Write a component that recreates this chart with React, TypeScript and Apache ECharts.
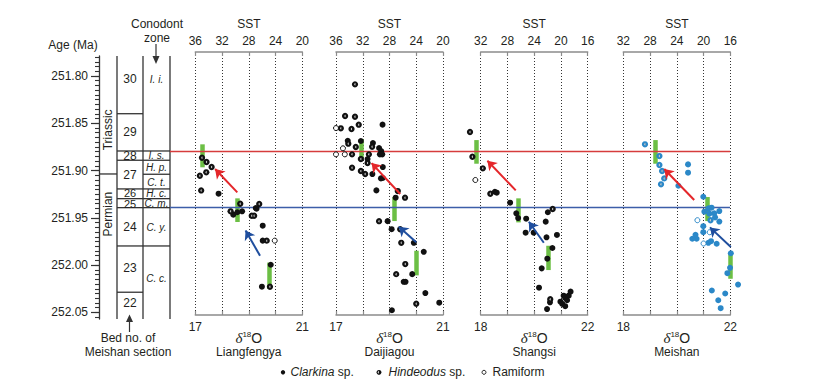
import React, { useEffect, useRef } from 'react';
import * as echarts from 'echarts';

const FONT = '"Liberation Sans", Arial, Helvetica, sans-serif';
const SERIF = '"Liberation Serif", "Times New Roman", serif';
const TEXT = '#231f20';
const LINE = '#333333';
const AXIS_GREY = '#8c8c8c';

// ---------- age axis ----------
const ageTickLabels = [251.8, 251.85, 251.9, 251.95, 252.0, 252.05];
const columnAgeMin = 251.7789;
const columnAgeMax = 252.0569;
const panelAgeMin = 251.7746;
const panelAgeMax = 252.0526;

// ---------- stratigraphic column ----------
const systemNames = ['Triassic', 'Permian'];
const systemBounds = [251.7789, 251.9036, 252.0569];
const systemLabelAges = [251.857, 251.946];

const bedNames = ['30', '29', '28', '27', '26', '25', '24', '23', '22'];
const bedBounds = [251.7789, 251.8399, 251.8793, 251.8891, 251.9194, 251.9297, 251.9392, 251.9797, 252.0286, 252.0569];
const bedLabelAges = [251.8032, 251.8592, 251.8843, 251.9047, 251.9232, 251.9357, 251.9596, 252.003, 252.04];
const bedFontSizes = [12, 12, 12, 12, 11, 11, 12, 12, 12];

const zoneNames = ['I. i.', 'I. s.', 'H. p.', 'C. t.', 'H. c.', 'C. m.', 'C. y.', 'C. c.'];
const zoneBounds = [251.7789, 251.8793, 251.8891, 251.9039, 251.9194, 251.9297, 251.9392, 251.9797, 252.0569];
const zoneLabelAges = [251.8042, 251.8843, 251.8969, 251.9121, 251.9247, 251.935, 251.9607, 252.0143];

// ---------- episodes ----------
const episodeNames = ['2nd episode', '1st episode'];
const episodeAges = [251.8797, 251.9392];
const episodeColors = ['#d63c3c', '#3c5ea9'];

// ---------- panels ----------
const panelNames = ['Liangfengya', 'Daijiagou', 'Shangsi', 'Meishan'];
const d18oRanges = [[17, 21], [17, 21], [18, 22], [18, 22]];
const sstRanges = [[20, 36], [20, 36], [16, 32], [16, 32]];
const pointColors = ['#111111', '#111111', '#111111', '#2b88c8'];

// Liangfengya  [δ18O, age]
const liangfengyaClarkina = [[17.87, 251.9244], [18.42, 251.9466], [18.57, 251.944], [18.75, 251.943], [19.26, 251.9395], [19.29, 251.9402], [19.52, 251.9582], [19.52, 251.974], [19.82, 251.9995], [19.49, 252.0227]];
const liangfengyaHindeodus = [[17.25, 251.8864], [17.42, 251.8909], [17.61, 251.8962], [17.41, 251.9018], [17.17, 251.9054], [17.22, 251.9209], [18.68, 251.935], [18.32, 251.943], [19.11, 251.9477], [19.2, 251.9477], [19.39, 251.9353], [19.67, 251.974], [19.79, 252.0227]];
const liangfengyaRamiform = [[19.97, 251.974]];
const liangfengyaBars = [[17.25, 251.8722, 251.8965], [18.55, 251.9293, 251.9543], [19.77, 251.9972, 252.0251]];
const liangfengyaArrows = [[[18.57, 251.923], [17.74, 251.8983]], [[19.42, 251.99], [18.88, 251.9632]]];

// Daijiagou
const daijiagouClarkina = [[17.44, 251.8684], [17.93, 251.8687], [18.38, 251.8708], [18.74, 251.8514], [18.61, 251.8761], [18.69, 251.8793], [18.64, 251.8828], [18.73, 251.8828], [18.18, 251.8877], [18.75, 251.8962], [18.36, 251.9036], [18.68, 251.9082], [18.75, 251.9078], [18.51, 251.9209], [19.23, 251.9286], [18.93, 251.9534], [19.08, 251.9619], [19.91, 251.9763], [20.28, 251.9858], [19.85, 252.0094], [19.53, 252.0175], [19.6, 252.0175], [20.34, 252.0294], [20.86, 252.0396], [19.09, 252.0476]];
const daijiagouHindeodus = [[17.71, 251.8088], [17.34, 251.8423], [17.71, 251.843], [17.18, 251.8553], [17.58, 251.856], [17.85, 251.8514], [17.46, 251.8715], [17.74, 251.875], [18.35, 251.8747], [17.6, 251.8828], [18.23, 251.8828], [17.93, 251.8877], [18.18, 251.892], [17.6, 251.8969], [17.93, 251.9004], [18.09, 251.9036], [19.31, 251.9216], [19.58, 251.9286], [18.61, 251.9534], [19.4, 251.9619], [19.44, 251.9763], [19.59, 251.9988], [19.25, 252.0094], [20.0, 252.0407]];
const daijiagouRamiform = [[17.0, 251.855], [17.26, 251.8764], [17.0, 251.8828], [17.33, 251.8828]];
const daijiagouBars = [[17.93, 251.8666, 251.8863], [19.19, 251.9279, 251.9533], [20.0, 251.9847, 252.0107]];
const daijiagouArrows = [[[19.4, 251.9247], [18.33, 251.892]], [[20.0, 251.9758], [19.35, 251.9593]]];

// Shangsi
const shangsiClarkina = [[18.53, 251.9223], [18.6, 251.9233], [19.1, 251.9339], [19.33, 251.9451], [19.4, 251.9501], [19.7, 251.9508], [19.68, 251.9656], [19.98, 251.9656], [20.51, 251.944], [20.43, 251.9539], [20.46, 251.9705], [20.85, 251.968], [20.68, 251.9818], [20.49, 251.9931], [20.28, 252.0033], [20.18, 252.0237], [20.59, 252.0392], [20.48, 252.0463], [20.98, 252.0385], [21.1, 252.0322], [21.16, 252.0345], [21.29, 252.0322], [21.36, 252.0279], [21.05, 252.0409], [21.16, 252.0433], [21.23, 252.037]];
const shangsiHindeodus = [[17.6, 251.8592], [17.69, 251.8853], [18.08, 251.8976], [18.36, 251.9244], [20.69, 251.9405], [20.6, 252.036]];
const shangsiRamiform = [[17.8, 251.9099]];
const shangsiBars = [[17.83, 251.8677, 251.8927], [19.39, 251.9293, 251.9547], [20.53, 251.9794, 252.0051]];
const shangsiArrows = [[[19.31, 251.9209], [18.25, 251.8895]], [[20.36, 251.9762], [19.8, 251.954]]];

// Meishan
const meishanClarkina = [[20.42, 251.8934], [20.42, 251.9022], [20.06, 251.916], [20.99, 251.9276], [21.03, 251.9434], [21.3, 251.9392], [21.4, 251.9451], [21.43, 251.9494], [21.59, 251.9427], [21.19, 251.9399], [21.22, 251.9455], [21.59, 251.9538], [20.99, 251.9587], [20.99, 251.9651], [20.7, 251.9679], [20.74, 251.972], [20.58, 251.972], [21.18, 251.9763], [21.28, 251.9746], [21.49, 251.9773], [22.02, 251.9873], [21.99, 252.0027], [21.89, 252.0084], [22.29, 252.0204], [21.31, 252.0267], [21.81, 252.0299], [21.55, 252.037], [21.64, 252.0454]];
const meishanHindeodus = [[18.81, 251.8722], [19.35, 251.8846], [19.35, 251.8941], [19.45, 251.9004], [19.53, 251.9082], [19.41, 251.9145], [21.26, 251.9524]];
const meishanRamiform = [[20.77, 251.9524], [21.23, 251.9651], [21.0, 251.977]];
const meishanBars = [[19.2, 251.8677, 251.8927], [21.13, 251.9279, 251.9533], [21.99, 251.9874, 252.0143]];
const meishanArrows = [[[20.65, 251.9311], [19.53, 251.8983]], [[22.02, 251.9808], [21.24, 251.96]]];

const panelClarkina = [liangfengyaClarkina, daijiagouClarkina, shangsiClarkina, meishanClarkina];
const panelHindeodus = [liangfengyaHindeodus, daijiagouHindeodus, shangsiHindeodus, meishanHindeodus];
const panelRamiform = [liangfengyaRamiform, daijiagouRamiform, shangsiRamiform, meishanRamiform];
const panelBars = [liangfengyaBars, daijiagouBars, shangsiBars, meishanBars];
const panelArrows = [liangfengyaArrows, daijiagouArrows, shangsiArrows, meishanArrows];

const legendNames = ['Clarkina', 'Hindeodus', 'Ramiform'];

// ---------- layout ----------
const PANEL_LEFTS = [195.3, 336, 480.7, 623.3];
const PANEL_W = 107;
const PANEL_TOP = 52;
const PANEL_H = 263;
const COL_LEFT = 99;
const COL_TOP = 56;
const COL_H = 263;
const COL_X = [0, 18, 44, 71]; // system | bed | zone columns (px units inside column grid)
const ARROW_COLORS = ['#e4262a', '#1f4e9e'];
const BAR_GREEN = '#6cbf45';
const HALF_DISK = 'path://M10 0A10 10 0 0 0 10 20Z';

function buildOption() {
  const grid: any[] = [];
  const xAxis: any[] = [];
  const yAxis: any[] = [];
  const series: any[] = [];
  const graphic: any[] = [];

  // ----- column grid -----
  grid.push({ left: COL_LEFT, top: COL_TOP, width: COL_X[3], height: COL_H });
  xAxis.push({ gridIndex: 0, type: 'value', min: 0, max: COL_X[3], show: false });
  const minorAgeTicks: number[] = [];
  for (let k = 0; k <= 55; k++) minorAgeTicks.push(Math.round((251.78 + k * 0.005) * 1000) / 1000);
  yAxis.push({
    gridIndex: 0, type: 'value', min: columnAgeMin, max: columnAgeMax, inverse: true, position: 'left',
    axisLine: { show: true, lineStyle: { color: LINE, width: 1.3 } },
    axisTick: { show: true, inside: false, length: 8, customValues: ageTickLabels, lineStyle: { color: LINE, width: 1.2 } },
    axisLabel: { show: true, customValues: ageTickLabels, formatter: (v: number) => v.toFixed(2), margin: 11, fontSize: 12, color: TEXT, fontFamily: FONT },
    splitLine: { show: false },
  });
  yAxis.push({
    gridIndex: 0, type: 'value', min: columnAgeMin, max: columnAgeMax, inverse: true, position: 'left',
    axisLine: { show: false },
    axisTick: { show: true, inside: false, length: 4, customValues: minorAgeTicks, lineStyle: { color: LINE, width: 1.1 } },
    axisLabel: { show: false },
    splitLine: { show: false },
  });

  const lineStyle = { stroke: LINE, lineWidth: 1.3 };
  series.push({
    type: 'custom', name: 'columnLines', xAxisIndex: 0, yAxisIndex: 0, clip: false, silent: true,
    data: [[COL_X[1], columnAgeMin], [COL_X[2], columnAgeMin], [COL_X[3], columnAgeMin]],
    renderItem: (params: any, api: any) => {
      const x = api.value(0);
      const p1 = api.coord([x, columnAgeMin]);
      const p2 = api.coord([x, columnAgeMax]);
      return { type: 'line', shape: { x1: p1[0], y1: p1[1], x2: p2[0], y2: p2[1] }, style: lineStyle };
    },
  });
  const cellSeries = (name: string, names: string[], bounds: number[], labelAges: number[], x0: number, x1: number, text: any, rotate: boolean, sizes?: number[]) => ({
    type: 'custom', name, xAxisIndex: 0, yAxisIndex: 0, clip: false, silent: true,
    data: names.map((_n, i) => [i, labelAges[i]]),
    renderItem: (params: any, api: any) => {
      const i = params.dataIndex;
      const children: any[] = [];
      if (i < names.length - 1) {
        const a = api.coord([x0, bounds[i + 1]]);
        const b = api.coord([x1, bounds[i + 1]]);
        children.push({ type: 'line', shape: { x1: a[0], y1: a[1], x2: b[0], y2: b[1] }, style: lineStyle });
      }
      const c = api.coord([(x0 + x1) / 2, labelAges[i]]);
      const extra = sizes ? { fontSize: sizes[i] } : {};
      children.push({
        type: 'text', x: c[0], y: c[1], rotation: rotate ? Math.PI / 2 : 0,
        style: { text: names[i], align: 'center', verticalAlign: 'middle', fill: TEXT, ...text, ...extra },
      });
      return { type: 'group', children };
    },
  });
  series.push(cellSeries('systems', systemNames, systemBounds, systemLabelAges, COL_X[0], COL_X[1], { fontSize: 12, fontFamily: FONT }, true));
  series.push(cellSeries('beds', bedNames, bedBounds, bedLabelAges, COL_X[1], COL_X[2], { fontSize: 12, fontFamily: FONT }, false, bedFontSizes));
  series.push(cellSeries('zones', zoneNames, zoneBounds, zoneLabelAges, COL_X[2], COL_X[3], { fontSize: 10, fontFamily: FONT, fontStyle: 'italic' }, false));

  // ----- panels -----
  for (let p = 0; p < 4; p++) {
    const gi = p + 1;
    grid.push({ left: PANEL_LEFTS[p], top: PANEL_TOP, width: PANEL_W, height: PANEL_H });
    const [dMin, dMax] = d18oRanges[p];
    const [sMin, sMax] = sstRanges[p];
    const bottomIdx = xAxis.length;
    xAxis.push({
      gridIndex: gi, type: 'value', position: 'bottom', min: dMin, max: dMax, interval: 1,
      axisLine: { show: true, onZero: false, lineStyle: { color: AXIS_GREY, width: 1.5 } },
      axisTick: { show: true, inside: true, length: 4, lineStyle: { color: AXIS_GREY, width: 1.2 } },
      axisLabel: { formatter: (v: number) => (v === dMin || v === dMax ? String(v) : ''), margin: 6, fontSize: 12, color: TEXT, fontFamily: FONT },
      splitLine: { show: true, lineStyle: { type: [1, 2], color: '#333', width: 1 } },
    });
    xAxis.push({
      gridIndex: gi, type: 'value', position: 'top', min: sMin, max: sMax, interval: 4, inverse: true,
      axisLine: { show: true, onZero: false, lineStyle: { color: AXIS_GREY, width: 1.5 } },
      axisTick: { show: true, inside: true, length: 4, lineStyle: { color: AXIS_GREY, width: 1.2 } },
      axisLabel: { margin: 5, fontSize: 12, color: TEXT, fontFamily: FONT },
      splitLine: { show: false },
      name: 'SST', nameLocation: 'middle', nameGap: 21,
      nameTextStyle: { fontSize: 12, color: TEXT, fontFamily: FONT },
    });
    const yIdx = yAxis.length;
    yAxis.push({ gridIndex: gi, type: 'value', min: panelAgeMin, max: panelAgeMax, inverse: true, show: false });

    const color = pointColors[p];
    series.push({
      type: 'lines', coordinateSystem: 'cartesian2d', xAxisIndex: bottomIdx, yAxisIndex: yIdx, z: 1, silent: true, clip: false,
      data: panelBars[p].map((b) => ({ coords: [[b[0], b[1]], [b[0], b[2]]] })),
      lineStyle: { color: BAR_GREEN, width: 4.5, opacity: 1 },
    });
    series.push({
      type: 'scatter', name: 'Clarkina sp.', xAxisIndex: bottomIdx, yAxisIndex: yIdx, z: 3, clip: false,
      symbol: 'circle', symbolSize: 6, itemStyle: { color, opacity: 1 },
      data: panelClarkina[p],
    });
    series.push({
      type: 'scatter', name: 'Hindeodus sp.', xAxisIndex: bottomIdx, yAxisIndex: yIdx, z: 3, clip: false,
      symbol: 'circle', symbolSize: 6.3, itemStyle: { color, opacity: 1 },
      data: panelHindeodus[p],
    });
    series.push({
      type: 'scatter', name: 'Hindeodus overlay', xAxisIndex: bottomIdx, yAxisIndex: yIdx, z: 4, clip: false, silent: true,
      symbol: HALF_DISK, symbolSize: [1.2, 2.5], symbolOffset: [-0.1, 0], itemStyle: { color: '#c4c4c4', opacity: 1 },
      data: panelHindeodus[p],
    });
    series.push({
      type: 'scatter', name: 'Ramiform', xAxisIndex: bottomIdx, yAxisIndex: yIdx, z: 3, clip: false,
      symbol: 'circle', symbolSize: 5, itemStyle: { color: '#fff', borderColor: color, borderWidth: 1, opacity: 1 },
      data: panelRamiform[p],
    });
    series.push({
      type: 'lines', coordinateSystem: 'cartesian2d', xAxisIndex: bottomIdx, yAxisIndex: yIdx, z: 5, silent: true, clip: false,
      symbol: ['none', 'arrow'], symbolSize: 9,
      data: panelArrows[p].map((a, i) => ({ coords: a, lineStyle: { color: ARROW_COLORS[i] } })),
      lineStyle: { width: 2, opacity: 1 },
    });

    const cx = PANEL_LEFTS[p] + PANEL_W / 2;
    graphic.push({
      type: 'text', x: cx, y: 338,
      style: {
        text: '{d|δ}{s|18}{o|O}', align: 'center', verticalAlign: 'middle', fill: TEXT, fontSize: 14, fontFamily: FONT,
        rich: {
          d: { fontFamily: SERIF, fontStyle: 'italic', fontSize: 15, fill: TEXT },
          s: { fontFamily: FONT, fontSize: 8, fill: TEXT, padding: [0, 0, 8, 0] },
          o: { fontFamily: FONT, fontSize: 14, fill: TEXT },
        },
      },
    });
    graphic.push({
      type: 'text', x: cx, y: 352,
      style: { text: panelNames[p], align: 'center', verticalAlign: 'middle', fontSize: 12, fontFamily: FONT, fill: TEXT },
    });
  }

  // ----- episode lines -----
  grid.push({ left: 170, top: PANEL_TOP, width: 560, height: PANEL_H });
  const exIdx = xAxis.length;
  xAxis.push({ gridIndex: 5, type: 'value', min: 0, max: 1, show: false });
  const eyIdx = yAxis.length;
  yAxis.push({ gridIndex: 5, type: 'value', min: panelAgeMin, max: panelAgeMax, inverse: true, show: false });
  series.push({
    type: 'lines', coordinateSystem: 'cartesian2d', xAxisIndex: exIdx, yAxisIndex: eyIdx, z: 2, silent: true,
    data: episodeNames.map((n, i) => ({ name: n, coords: [[0, episodeAges[i]], [1, episodeAges[i]]], lineStyle: { color: episodeColors[i] } })),
    lineStyle: { width: 1.3, opacity: 1 },
    label: { show: true, position: 'end', formatter: '{b}', fontSize: 12, fontFamily: FONT, color: TEXT, distance: 3 },
  });

  // ----- header / footer texts -----
  const txt = (text: string, x: number, y: number, extra: any = {}) => ({
    type: 'text', x, y, style: { text, align: 'center', verticalAlign: 'middle', fontSize: 12, fontFamily: FONT, fill: TEXT, ...extra },
  });
  graphic.push(txt('Age (Ma)', 73, 45));
  graphic.push(txt('Conodont', 157, 24));
  graphic.push(txt('zone', 157, 38));
  graphic.push({ type: 'line', shape: { x1: 156, y1: 44, x2: 156, y2: 57 }, style: { stroke: LINE, lineWidth: 1.2 } });
  graphic.push({ type: 'polygon', shape: { points: [[152.5, 56], [159.5, 56], [156, 64]] }, style: { fill: LINE } });
  graphic.push(txt('Bed no. of', 128, 338));
  graphic.push(txt('Meishan section', 128, 352));
  graphic.push({ type: 'line', shape: { x1: 129.5, y1: 321, x2: 129.5, y2: 332 }, style: { stroke: LINE, lineWidth: 1.2 } });
  graphic.push({ type: 'polygon', shape: { points: [[126, 322], [133, 322], [129.5, 314.5]] }, style: { fill: LINE } });

  // ----- legend -----
  const ly = 372.3;
  graphic.push({ type: 'circle', shape: { cx: 283, cy: ly, r: 2.2 }, style: { fill: '#111' } });
  graphic.push({
    type: 'text', x: 290.5, y: ly,
    style: { text: '{i|' + legendNames[0] + '} sp.', align: 'left', verticalAlign: 'middle', fontSize: 12, fontFamily: FONT, fill: TEXT,
      rich: { i: { fontStyle: 'italic', fontSize: 12, fontFamily: FONT, fill: TEXT } } },
  });
  graphic.push({ type: 'circle', shape: { cx: 379, cy: ly, r: 2.4 }, style: { fill: '#111' } });
  graphic.push({ type: 'sector', shape: { cx: 379, cy: ly, r0: 0, r: 1.2, startAngle: Math.PI / 2, endAngle: (3 * Math.PI) / 2 }, style: { fill: '#c4c4c4' } });
  graphic.push({
    type: 'text', x: 388.5, y: ly,
    style: { text: '{i|' + legendNames[1] + '} sp.', align: 'left', verticalAlign: 'middle', fontSize: 12, fontFamily: FONT, fill: TEXT,
      rich: { i: { fontStyle: 'italic', fontSize: 12, fontFamily: FONT, fill: TEXT } } },
  });
  graphic.push({ type: 'circle', shape: { cx: 484, cy: ly, r: 2 }, style: { fill: '#fff', stroke: '#111', lineWidth: 0.9 } });
  graphic.push({
    type: 'text', x: 492.5, y: ly,
    style: { text: legendNames[2], align: 'left', verticalAlign: 'middle', fontSize: 12, fontFamily: FONT, fill: TEXT },
  });

  return {
    animation: false,
    backgroundColor: '#ffffff',
    textStyle: { fontFamily: FONT },
    grid, xAxis, yAxis, series, graphic,
  };
}

export default function App() {
  const ref = useRef<HTMLDivElement>(null);
  useEffect(() => {
    const chart = echarts.init(ref.current as HTMLDivElement, null, { renderer: 'svg' });
    chart.setOption(buildOption() as any);
    return () => chart.dispose();
  }, []);
  return (
    <div
      ref={ref}
      style={{ position: 'absolute', left: 0, top: 0, width: 828, height: 389, background: '#fff' }}
    />
  );
}
